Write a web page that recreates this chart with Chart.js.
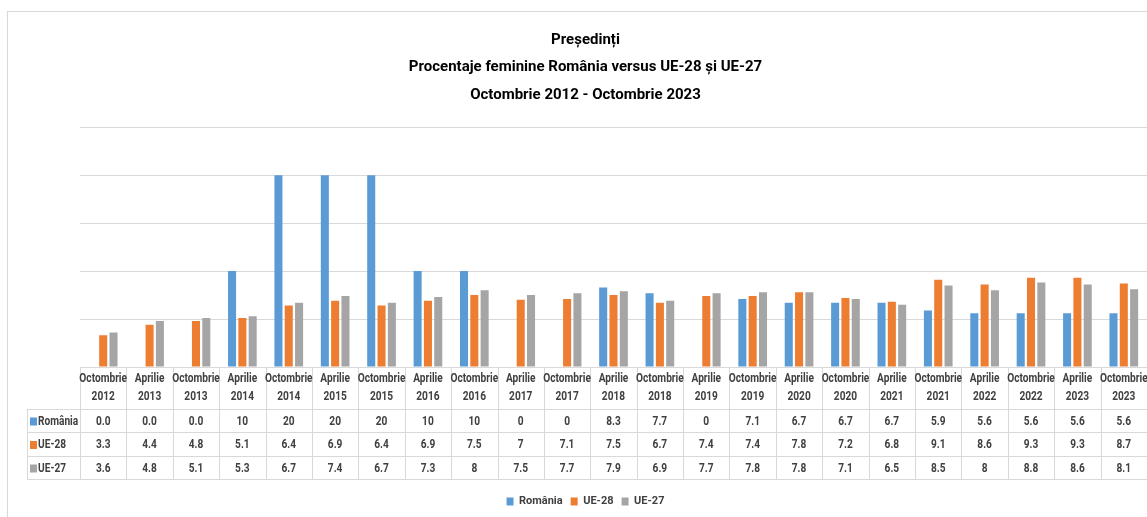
<!DOCTYPE html>
<html>
<head>
<meta charset="utf-8">
<script src="https://cdn.jsdelivr.net/npm/chart.js@4.4.0/dist/chart.umd.min.js"></script>
<style>
  body { margin: 0; background: #fff; }
  #wrap { position: relative; width: 1147px; height: 517px; overflow: hidden; }
  #frame { position: absolute; left: 7px; top: 11px; width: 1300px; height: 700px; border: 1px solid #d9d9d9; }
  #box { position: absolute; left: 0; top: 0; width: 1147px; height: 517px; }
</style>
</head>
<body>
<div id="wrap">
  <div id="frame"></div>
  <div id="box"><canvas id="chart"></canvas></div>
</div>
<script>
const months = ["Octombrie", "Aprilie", "Octombrie", "Aprilie", "Octombrie", "Aprilie", "Octombrie", "Aprilie",
  "Octombrie", "Aprilie", "Octombrie", "Aprilie", "Octombrie", "Aprilie", "Octombrie", "Aprilie",
  "Octombrie", "Aprilie", "Octombrie", "Aprilie", "Octombrie", "Aprilie", "Octombrie"];
const years = ["2012", "2013", "2013", "2014", "2014", "2015", "2015", "2016", "2016", "2017", "2017", "2018",
  "2018", "2019", "2019", "2020", "2020", "2021", "2021", "2022", "2022", "2023", "2023"];
const romania = ["0.0", "0.0", "0.0", 10, 20, 20, 20, 10, 10, 0, 0, 8.3, 7.7, 0, 7.1, 6.7, 6.7, 6.7, 5.9, 5.6, 5.6, 5.6, 5.6];
const ue28 = [3.3, 4.4, 4.8, 5.1, 6.4, 6.9, 6.4, 6.9, 7.5, 7, 7.1, 7.5, 6.7, 7.4, 7.4, 7.8, 7.2, 6.8, 9.1, 8.6, 9.3, 9.3, 8.7];
const ue27 = [3.6, 4.8, 5.1, 5.3, 6.7, 7.4, 6.7, 7.3, 8, 7.5, 7.7, 7.9, 6.9, 7.7, 7.8, 7.8, 7.1, 6.5, 8.5, 8, 8.8, 8.6, 8.1];
const seriesNames = ["România", "UE-28", "UE-27"];
const titleLines = ["Președinți", "Procentaje feminine România versus UE-28 și UE-27", "Octombrie 2012 - Octombrie 2023"];

const colors = ["#5b9bd5", "#ed7d31", "#a5a5a5"];
const fontFamily = "Roboto, 'Liberation Sans', sans-serif";
const lineColor = "#d9d9d9";
const textColor = "#404040";

// narrow text, the original uses a condensed font
function narrowText(ctx, text, x, y, align) {
  const sx = 0.78;
  ctx.save();
  ctx.translate(x, y);
  ctx.scale(sx, 1);
  ctx.textAlign = align;
  ctx.fillText(text, 0, 0);
  ctx.restore();
}

// data table under the bars
const dataTable = {
  id: "dataTable",
  afterDraw(chart) {
    const ctx = chart.ctx;
    const x = chart.scales.x;
    const top = chart.chartArea.bottom;
    const rows = [top, top + 42, top + 65, top + 89, top + 112];
    const labelLeft = 27;
    const step = (x.right - x.left) / months.length;

    ctx.save();
    ctx.strokeStyle = lineColor;
    ctx.lineWidth = 1;
    ctx.beginPath();
    ctx.moveTo(x.left, rows[0] + 0.5);
    ctx.lineTo(x.right, rows[0] + 0.5);
    for (let r = 1; r < rows.length; r++) {
      ctx.moveTo(labelLeft, rows[r] + 0.5);
      ctx.lineTo(x.right, rows[r] + 0.5);
    }
    ctx.moveTo(labelLeft + 0.5, rows[1]);
    ctx.lineTo(labelLeft + 0.5, rows[4]);
    for (let i = 0; i <= months.length; i++) {
      const px = Math.round(x.left + i * step) + 0.5;
      ctx.moveTo(px, rows[0]);
      ctx.lineTo(px, rows[4]);
    }
    ctx.stroke();

    ctx.fillStyle = textColor;
    ctx.font = "bold 13px " + fontFamily;
    ctx.textBaseline = "middle";
    months.forEach((m, i) => {
      const cx = x.getPixelForValue(i);
      narrowText(ctx, m, cx, top + 12, "center");
      narrowText(ctx, years[i], cx, top + 30, "center");
    });

    const rowData = [romania, ue28, ue27];
    rowData.forEach((vals, r) => {
      const cy = (rows[r + 1] + rows[r + 2]) / 2 + 1;
      vals.forEach((v, i) => {
        narrowText(ctx, String(v), x.getPixelForValue(i), cy, "center");
      });
      ctx.fillStyle = colors[r];
      ctx.fillRect(labelLeft + 3, cy - 4, 7, 8);
      ctx.fillStyle = textColor;
      narrowText(ctx, seriesNames[r], labelLeft + 11, cy, "left");
    });
    ctx.restore();
  }
};

new Chart(document.getElementById("chart"), {
  type: "bar",
  data: {
    labels: months.map((m, i) => m + " " + years[i]),
    datasets: [
      { label: seriesNames[0], data: romania, backgroundColor: colors[0] },
      { label: seriesNames[1], data: ue28, backgroundColor: colors[1] },
      { label: seriesNames[2], data: ue27, backgroundColor: colors[2] }
    ]
  },
  options: {
    responsive: true,
    maintainAspectRatio: false,
    animation: false,
    categoryPercentage: 0.667,
    barPercentage: 0.78,
    layout: { padding: { left: 24, right: 0, top: 0, bottom: 0 } },
    scales: {
      x: {
        grid: { display: false },
        border: { display: false },
        ticks: { display: false },
        afterFit(scale) { scale.height = 121; }
      },
      y: {
        min: 0,
        max: 25,
        ticks: { display: false, stepSize: 5 },
        border: { display: false },
        grid: { color: lineColor, drawTicks: false },
        afterFit(scale) { scale.width = 56; }
      }
    },
    plugins: {
      title: {
        display: true,
        text: titleLines,
        color: "#000",
        font: { family: fontFamily, size: 15, weight: "bold", lineHeight: 1.85 },
        padding: { top: 26, bottom: 18 }
      },
      legend: {
        position: "bottom",
        labels: {
          boxWidth: 7,
          boxHeight: 8,
          padding: 8,
          color: textColor,
          font: { family: fontFamily, size: 11, weight: "bold" }
        }
      },
      tooltip: { enabled: false }
    }
  },
  plugins: [dataTable]
});
</script>
</body>
</html>
